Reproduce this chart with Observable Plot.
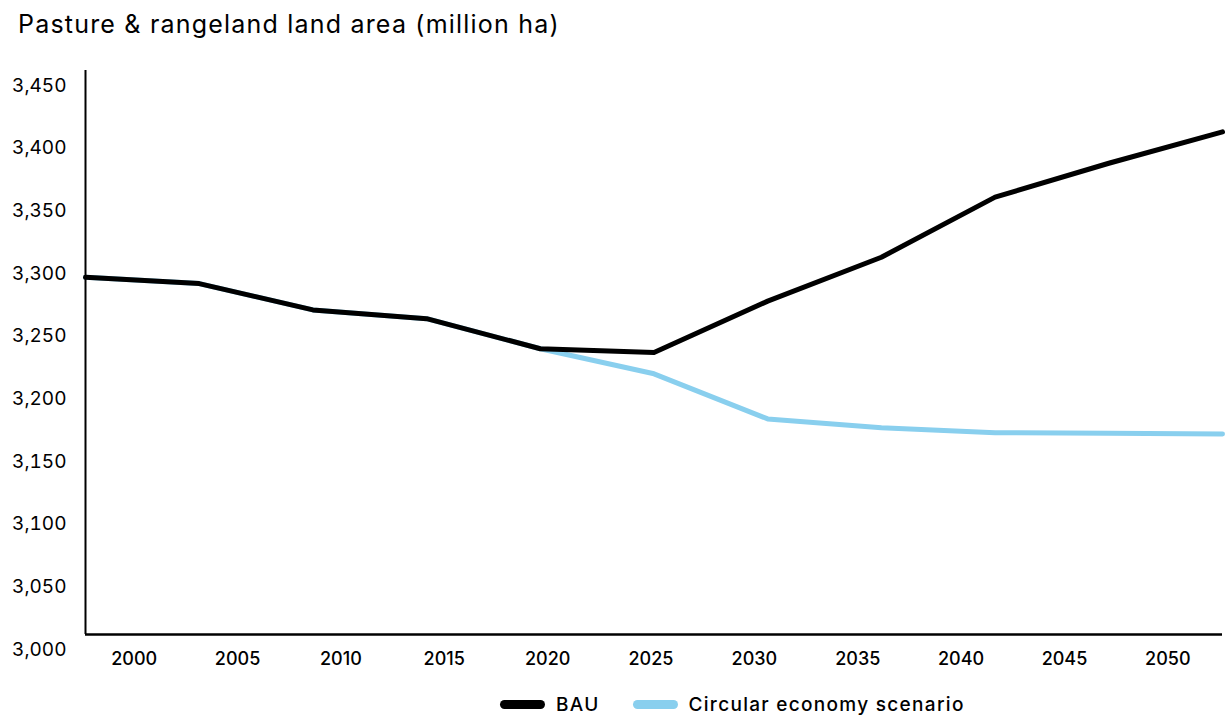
<!DOCTYPE html>
<html><head><meta charset="utf-8">
<script src="https://cdn.jsdelivr.net/npm/d3@7"></script>
<script src="https://cdn.jsdelivr.net/npm/@observablehq/plot@0.6"></script>
<style>
body{margin:0;background:#fff;font-family:Inter,"Noto Sans",sans-serif;color:#000;width:1225px;}
#title{height:50px;font-size:25px;padding-left:18px;line-height:48px;white-space:nowrap;letter-spacing:1.2px;}
#chart svg{display:block;}
#legend{height:48px;display:flex;align-items:center;padding-left:500px;font-size:19px;font-weight:500;letter-spacing:1.3px;}
.item{display:flex;align-items:center;margin-right:33px;}
.sw{width:45px;height:9px;border-radius:5px;margin-right:11px;}
</style></head><body>
<div id="title">Pasture &amp; rangeland land area (million ha)</div>
<div id="chart"></div>
<div id="legend"></div>
<script>
const years = [2000, 2005, 2010, 2015, 2020, 2025, 2030, 2035, 2040, 2045, 2050];
const bau = [3285, 3280, 3259, 3252, 3228, 3225, 3266, 3301, 3349, 3376, 3401];
const circular = [3285, 3280, 3259, 3252, 3228, 3208, 3172, 3165, 3161, 3160.5, 3160];
const xTickLabels = ["2000", "2005", "2010", "2015", "2020", "2025", "2030", "2035", "2040", "2045", "2050"];
const yTicks = [3000, 3050, 3100, 3150, 3200, 3250, 3300, 3350, 3400, 3450];
const seriesNames = ["Circular economy scenario", "BAU"];
const seriesColors = ["#89CFEE", "#000000"];
const legendOrder = ["BAU", "Circular economy scenario"];

const seriesValues = {"BAU": bau, "Circular economy scenario": circular};
const rows = seriesNames.flatMap(name => years.map((yr, i) => ({series: name, year: yr, value: seriesValues[name][i]})));

const chart = Plot.plot({
  width: 1225,
  height: 630,
  marginTop: 20,
  marginBottom: 46,
  marginLeft: 85,
  marginRight: 3,
  style: {fontFamily: 'Inter, "Noto Sans", sans-serif', color: "#000", background: "#fff"},
  x: {domain: [2000, 2050], axis: null},
  y: {domain: [3000, 3450], axis: null},
  color: {domain: seriesNames, range: seriesColors},
  marks: [
    Plot.axisY(yTicks, {tickSize: 0, tickPadding: 19, dy: 15, fontSize: 19, tickFormat: d3.format(","), label: null}),
    Plot.text(xTickLabels, {x: (d, i) => 2000 + (i + 0.5) * 50 / xTickLabels.length, y: () => 3000, dy: 25, fontSize: 18, fontWeight: 500, text: d => d, dx: -3}),
    Plot.line(rows, {x: "year", y: "value", z: "series", stroke: "series", strokeWidth: 5, strokeLinecap: "round"}),
    Plot.ruleX([2000], {y1: 3000, y2: 3450, stroke: "#000", strokeWidth: 2}),
    Plot.ruleY([3000], {stroke: "#000", strokeWidth: 2.5})
  ]
});
document.getElementById("chart").appendChild(chart);

const legend = document.getElementById("legend");
legendOrder.forEach(name => {
  const it = document.createElement("div");
  it.className = "item";
  const sw = document.createElement("div");
  sw.className = "sw";
  sw.style.background = seriesColors[seriesNames.indexOf(name)];
  const t = document.createElement("span");
  t.textContent = name;
  it.appendChild(sw); it.appendChild(t);
  legend.appendChild(it);
});
</script>
</body></html>
